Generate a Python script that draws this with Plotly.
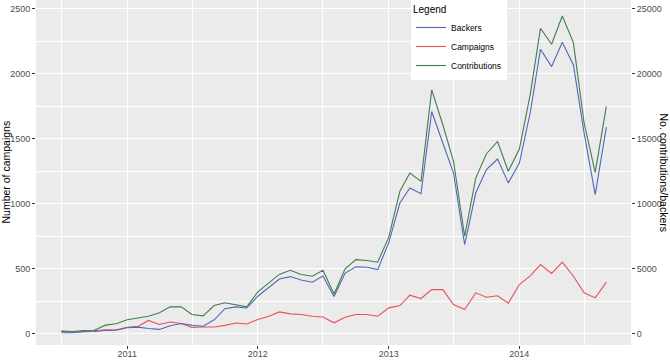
import plotly.graph_objects as go

months = [
    "2010-07-01", "2010-08-01", "2010-09-01", "2010-10-01", "2010-11-01", "2010-12-01",
    "2011-01-01", "2011-02-01", "2011-03-01", "2011-04-01", "2011-05-01", "2011-06-01",
    "2011-07-01", "2011-08-01", "2011-09-01", "2011-10-01", "2011-11-01", "2011-12-01",
    "2012-01-01", "2012-02-01", "2012-03-01", "2012-04-01", "2012-05-01", "2012-06-01",
    "2012-07-01", "2012-08-01", "2012-09-01", "2012-10-01", "2012-11-01", "2012-12-01",
    "2013-01-01", "2013-02-01", "2013-03-01", "2013-04-01", "2013-05-01", "2013-06-01",
    "2013-07-01", "2013-08-01", "2013-09-01", "2013-10-01", "2013-11-01", "2013-12-01",
    "2014-01-01", "2014-02-01", "2014-03-01", "2014-04-01", "2014-05-01", "2014-06-01",
    "2014-07-01", "2014-08-01", "2014-09-01",
]

campaigns = [
    18, 10, 15, 21, 28, 28, 48, 56, 100, 69, 88, 77,
    46, 50, 50, 62, 80, 73, 108, 133, 166, 151, 146, 133,
    127, 82, 125, 146, 146, 133, 197, 215, 295, 269, 338, 338,
    223, 185, 313, 279, 290, 233, 377, 446, 531, 462, 549, 441,
    313, 274, 395,
]

backers = [
    50, 50, 130, 150, 230, 250, 440, 490, 380, 310, 600, 770,
    620, 560, 1050, 1910, 2050, 1960, 2870, 3580, 4190, 4380, 4120, 3950,
    4430, 2840, 4650, 5130, 5100, 4920, 7000, 10050, 11210, 10770, 17100, 14670,
    12360, 6850, 10820, 12620, 13440, 11600, 13130, 17100, 21900, 20560, 22440, 20690,
    15440, 10690, 15900,
]

contributions = [
    180, 150, 230, 250, 640, 750, 1050, 1220, 1330, 1590, 2050, 2050,
    1460, 1360, 2150, 2370, 2220, 2050, 3200, 3900, 4550, 4870, 4540, 4410,
    4860, 3040, 4980, 5690, 5620, 5490, 7420, 10950, 12360, 11720, 18770, 16080,
    13260, 7490, 11970, 13850, 14790, 12500, 14210, 18510, 23510, 22280, 24460, 22410,
    16210, 12410, 17490,
]

left_ticks = [0, 500, 1000, 1500, 2000, 2500]
right_ticks = [0, 5000, 10000, 15000, 20000, 25000]
right_tick_labels = ["0", "5000", "10000", "15000", "20000", "25000"]

BLUE = "#5068BA"
RED = "#EE4F55"
GREEN = "#3F7F4B"
FONT = "Liberation Sans, Arial, sans-serif"

fig = go.Figure()
fig.add_trace(go.Scatter(x=months, y=backers, name="Backers", mode="lines",
                         line=dict(color=BLUE, width=1.1), yaxis="y2"))
fig.add_trace(go.Scatter(x=months, y=campaigns, name="Campaigns", mode="lines",
                         line=dict(color=RED, width=1.1), yaxis="y"))
fig.add_trace(go.Scatter(x=months, y=contributions, name="Contributions", mode="lines",
                         line=dict(color=GREEN, width=1.1), yaxis="y2"))

ylo, yhi = -89, 2569
tickfont = dict(size=9, color="#4D4D4D", family=FONT)

fig.update_layout(
    width=670, height=362,
    margin=dict(l=36, r=39, t=0, b=17, autoexpand=False),
    paper_bgcolor="white",
    plot_bgcolor="#EBEBEB",
    font=dict(family=FONT, size=10, color="#4D4D4D"),
    showlegend=True,
    legend=dict(
        title=dict(text="Legend", font=dict(size=10, color="black")),
        x=(411 - 36) / 595, y=1, xanchor="left", yanchor="top",
        bgcolor="white", borderwidth=0,
        font=dict(size=8.5, color="black"),
        tracegroupgap=0, itemwidth=30, traceorder="normal",
    ),
    xaxis=dict(
        type="date",
        range=["2010-04-21", "2014-11-09"],
        dtick="M12", tick0="2011-01-01", tickformat="%Y",
        showgrid=True, gridcolor="white", gridwidth=1.1,
        minor=dict(dtick="M6", tick0="2010-07-01", showgrid=True,
                   gridcolor="white", gridwidth=0.5),
        ticks="outside", ticklen=3, tickcolor="#333333", tickwidth=1,
        tickfont=tickfont, ticklabelstandoff=-3,
        zeroline=False, showline=False, automargin=False,
    ),
    yaxis=dict(
        range=[ylo, yhi],
        tickvals=left_ticks,
        showgrid=True, gridcolor="white", gridwidth=1.1,
        minor=dict(dtick=250, tick0=0, showgrid=True, gridcolor="white", gridwidth=0.5),
        ticks="outside", ticklen=3, tickcolor="#333333", tickwidth=1,
        tickfont=tickfont,
        zeroline=False, showline=False, automargin=False,
    ),
    yaxis2=dict(
        range=[ylo * 10, yhi * 10],
        tickvals=right_ticks, ticktext=right_tick_labels,
        overlaying="y", side="right",
        showgrid=False, zeroline=False, showline=False,
        ticks="outside", ticklen=3, tickcolor="#333333", tickwidth=1,
        tickfont=tickfont, automargin=False,
    ),
    annotations=[
        dict(text="Number of campaigns", textangle=-90,
             xref="paper", yref="paper", x=(5 - 36) / 595, y=0.5,
             xanchor="center", yanchor="middle", showarrow=False,
             font=dict(size=10.5, color="black", family=FONT)),
        dict(text="No. contributions/backers", textangle=90,
             xref="paper", yref="paper", x=(664 - 36) / 595, y=0.5,
             xanchor="center", yanchor="middle", showarrow=False,
             font=dict(size=10.5, color="black", family=FONT)),
    ],
)

fig.write_html(
    "out.html",
    config={"displayModeBar": False},
    post_script="document.body.style.margin='0';document.body.style.overflow='hidden';",
)
